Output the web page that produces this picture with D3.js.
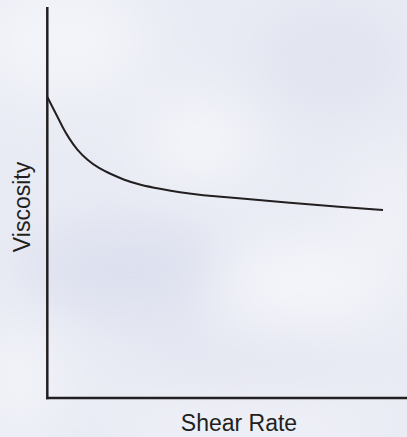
<!DOCTYPE html>
<html><head><meta charset="utf-8">
<script src="https://cdn.jsdelivr.net/npm/d3@7"></script>
<style>html,body{margin:0;padding:0;background:#eceef6;overflow:hidden}</style>
</head><body>
<script>
const shearRate = [0, 1.49, 2.98, 4.47, 6.46, 8.94, 11.9, 15.4, 18.9, 22.8, 27.6, 33.6, 39.5, 45.5, 57.4, 72.3, 87.2, 100];
const viscosity = [77.0, 74.5, 72.0, 69.4, 66.4, 63.4, 60.9, 58.7, 57.3, 55.8, 54.5, 53.5, 52.6, 51.9, 51.1, 49.9, 48.9, 48.1];
const xLabel = "Shear Rate";
const yLabel = "Viscosity";

const W = 407, H = 437;
const svg = d3.select("body").append("svg").attr("width", W).attr("height", H);
const defs = svg.append("defs");
defs.append("filter").attr("id","blur").attr("x","-50%").attr("y","-50%").attr("width","200%").attr("height","200%")
  .append("feGaussianBlur").attr("stdDeviation", 30);

// cloudy background
svg.append("rect").attr("width", W).attr("height", H).attr("fill", "#e9ebf4");
const bg = svg.append("g").attr("filter","url(#blur)");
const blobs = [
  {x:60,y:40,rx:90,ry:60,c:"#f3f4f9"},
  {x:330,y:60,rx:80,ry:60,c:"#e2e4f0"},
  {x:200,y:140,rx:60,ry:40,c:"#f5f6fa"},
  {x:130,y:270,rx:110,ry:45,c:"#dcdfee"},
  {x:300,y:290,rx:90,ry:50,c:"#f4f5fa"},
  {x:250,y:360,rx:120,ry:30,c:"#e2e4f0"},
  {x:20,y:380,rx:40,ry:60,c:"#f3f4f9"},
  {x:390,y:220,rx:40,ry:70,c:"#f1f2f8"},
  {x:250,y:420,rx:140,ry:25,c:"#f2f3f8"}
];
bg.selectAll("ellipse").data(blobs).join("ellipse")
  .attr("cx",d=>d.x).attr("cy",d=>d.y).attr("rx",d=>d.rx).attr("ry",d=>d.ry).attr("fill",d=>d.c);

const x = d3.scaleLinear().domain([0, 100]).range([47.3, 383]);
const y = d3.scaleLinear().domain([0, 100]).range([398, 7]);

const ink = "#231f20";
// axes
svg.append("line").attr("x1", x(0)).attr("x2", x(0)).attr("y1", y(100)).attr("y2", y(0)+1.2)
  .attr("stroke", ink).attr("stroke-width", 2.5);
svg.append("line").attr("x1", x(0)-1.2).attr("x2", W).attr("y1", y(0)).attr("y2", y(0))
  .attr("stroke", ink).attr("stroke-width", 2.5);

const pts = shearRate.map((s,i)=>[s, viscosity[i]]);
svg.append("path").datum(pts)
  .attr("d", d3.line().x(d=>x(d[0])).y(d=>y(d[1])).curve(d3.curveBasis))
  .attr("fill","none").attr("stroke", ink).attr("stroke-width", 2);

svg.append("text").attr("x", 239).attr("y", 431).attr("text-anchor","middle")
  .attr("font-family","Liberation Sans, Arial, sans-serif").attr("font-size", 23).attr("fill", ink)
  .text(xLabel);
svg.append("text").attr("transform","translate(30,207) rotate(-90)").attr("text-anchor","middle")
  .attr("font-family","Liberation Sans, Arial, sans-serif").attr("font-size", 23).attr("fill", ink)
  .text(yLabel);
</script>
</body></html>
